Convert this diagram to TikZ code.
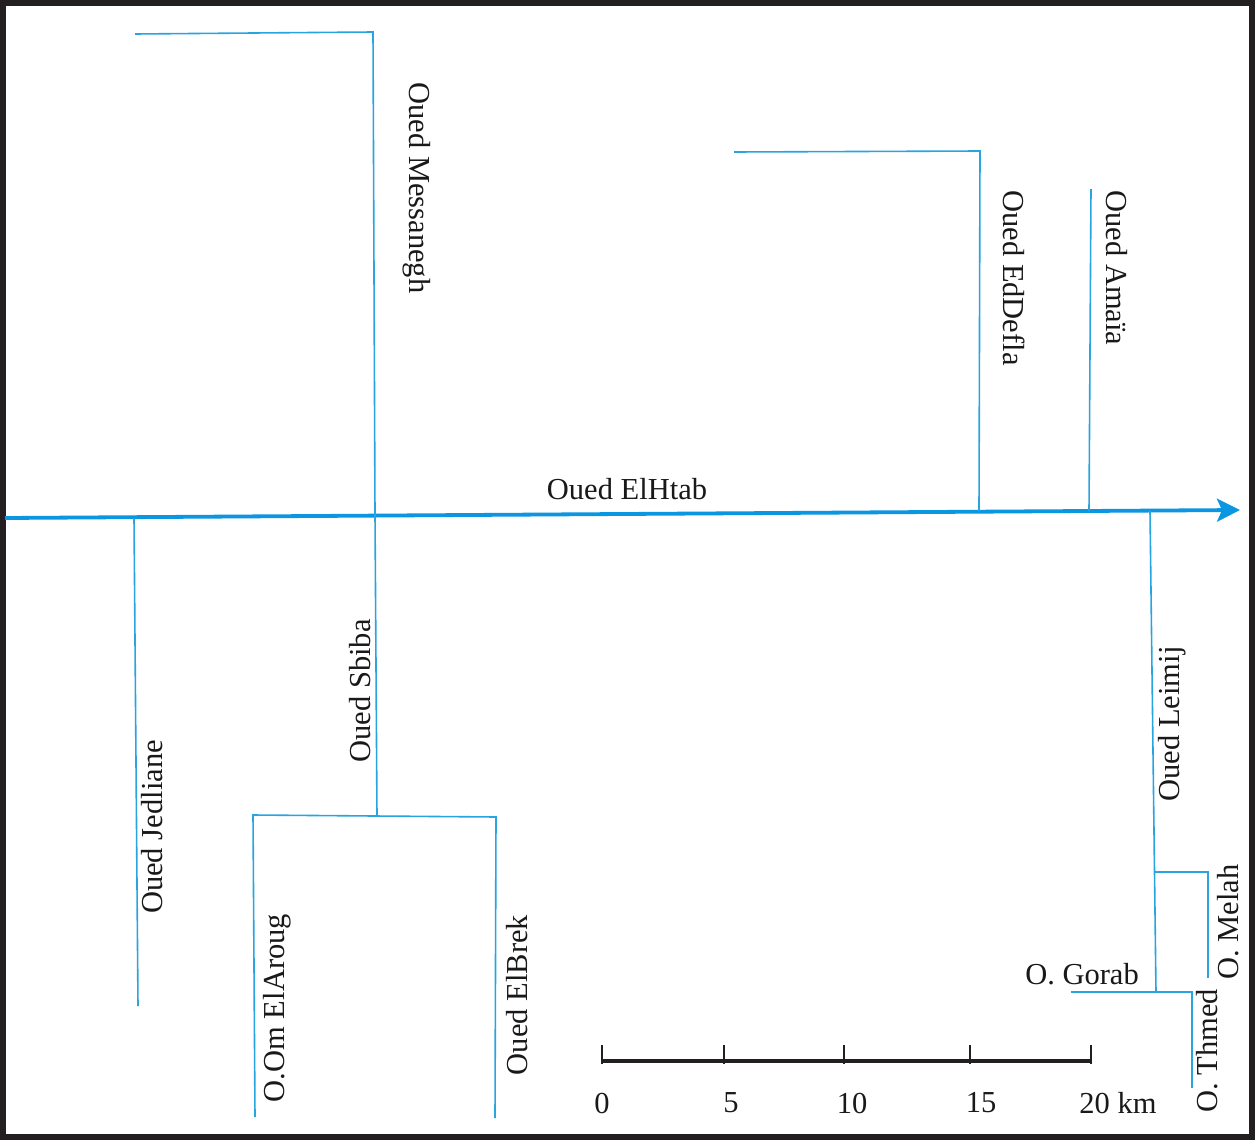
\documentclass[tikz,border=0pt]{standalone}
\usepackage{fontspec}
\setmainfont{Liberation Serif}
\usetikzlibrary{arrows.meta}
\definecolor{riv}{RGB}{40,165,225}
\definecolor{mainriv}{RGB}{10,150,225}
\definecolor{frame}{RGB}{35,31,32}
\tikzset{
  river/.style={draw=riv,line width=1.6pt},
  mainriver/.style={draw=mainriv,line width=3.8pt,-{Stealth[length=23pt,width=23pt,inset=5pt]}},
  lab/.style={font=\fontsize{30.5}{30.5}\selectfont,text=black!90,inner sep=0pt},
  vlab/.style={lab,rotate=-90},
  ulab/.style={lab,rotate=90},
  tick/.style={draw=frame,line width=3.2pt},
  tickmark/.style={draw=frame,line width=2.8pt}
}
\begin{document}
\begin{tikzpicture}[x=1pt,y=-1pt]
\useasboundingbox (0,0) rectangle (1259,1140);
\fill[white] (0,0) rectangle (1259,1140);
\draw[frame,line width=6pt] (3,3) rectangle (1252,1137);
% main river
\coordinate (mw) at (5,518);
\coordinate (me) at (1240,510);
\draw[mainriver] (mw) -- (me);
% north tributaries
\coordinate (a1) at (135,34); \coordinate (a2) at (373,32); \coordinate (a3) at (375,515);
\draw[river] (a1) -- (a2) -- (a3);
\coordinate (b1) at (734,152); \coordinate (b2) at (980,151); \coordinate (b3) at (979,511);
\draw[river] (b1) -- (b2) -- (b3);
\coordinate (c1) at (1091,189); \coordinate (c2) at (1089,511);
\draw[river] (c1) -- (c2);
% south tributaries
\coordinate (d1) at (134,518); \coordinate (d2) at (138,1006);
\draw[river] (d1) -- (d2);
\coordinate (e1) at (375,515); \coordinate (e2) at (377,816);
\draw[river] (e1) -- (e2);
\coordinate (f1) at (255,1117); \coordinate (f2) at (253,815); \coordinate (f3) at (496,817); \coordinate (f4) at (495,1118);
\draw[river] (f1) -- (f2) -- (f3) -- (f4);
\coordinate (g1) at (1150,511); \coordinate (g2) at (1156,992);
\draw[river] (g1) -- (g2);
\coordinate (h1) at (1155,872); \coordinate (h2) at (1208,872); \coordinate (h3) at (1208,978);
\draw[river] (h1) -- (h2) -- (h3);
\coordinate (i1) at (1071,992); \coordinate (i2) at (1192,992); \coordinate (i3) at (1192,1088);
\draw[river] (i1) -- (i2) -- (i3);
% labels
\node[vlab] (l1) at (416.5,188) {Oued Messanegh};
\node[vlab] (l2) at (1014,278) {Oued EdDefla};
\node[vlab] (l3) at (1117,268) {Oued Amaïa};
\node[lab] (l4) at (627,489) {Oued ElHtab};
\node[ulab] (l5) at (152,827) {Oued Jedliane};
\node[ulab] (l6) at (360,691) {Oued Sbiba};
\node[ulab] (l7) at (277,1008) {O.Om ElAroug};
\node[ulab] (l8) at (517,995) {Oued ElBrek};
\node[ulab] (l9) at (1172,724) {Oued Leimij};
\node[ulab] (l10) at (1228,922) {O. Melah};
\node[lab] (l11) at (1082,974) {O. Gorab};
\node[ulab] (l12) at (1207,1051) {O. Thmed};
% scale
\coordinate (s0) at (602,1061); \coordinate (s4) at (1091,1061);
\draw[tick] (s0) -- (s4);
\foreach \x in {602,724,844,970,1091} \draw[tickmark] (\x,1045) -- (\x,1064);
\node[lab] (n0) at (602,1103) {0};
\node[lab] (n1) at (731,1103) {5};
\node[lab] (n2) at (852,1103) {10};
\node[lab] (n3) at (981,1103) {15};
\node[lab] (n4) at (1118,1103) {20 km};
\end{tikzpicture}
\end{document}
